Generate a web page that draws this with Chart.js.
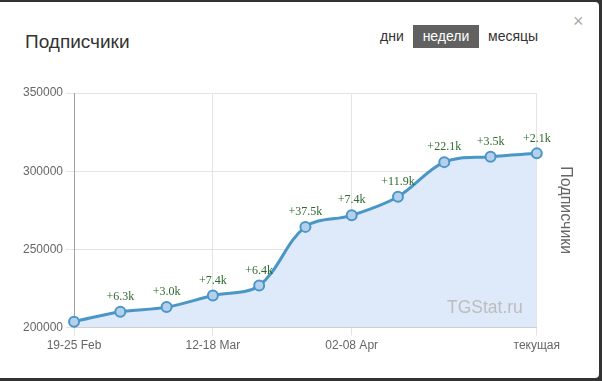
<!DOCTYPE html>
<html>
<head>
<meta charset="utf-8">
<script src="https://cdn.jsdelivr.net/npm/chart.js@4/dist/chart.umd.min.js"></script>
<style>
  html, body { margin: 0; padding: 0; }
  body { width: 602px; height: 381px; overflow: hidden; background: #333; font-family: "Liberation Sans", Arial, sans-serif; }
  .modal { position: absolute; left: -10px; top: 2px; width: 609px; height: 376px; background: #fff; border-radius: 4px; }
  .title { position: absolute; left: 25px; top: 32px; font-size: 19px; line-height: 20px; color: #333; }
  .close { position: absolute; left: 573px; top: 11px; font-size: 18px; line-height: 20px; color: #aaa; }
  .tab { position: absolute; top: 25px; height: 23px; font-size: 14px; line-height: 23px; color: #333; }
  .tab.on { background: #616161; color: #fff; width: 66px; text-align: center; }
  .chart-box { position: absolute; left: 0; top: 63px; width: 602px; height: 310px; }
  .mark { position: absolute; left: 447px; top: 297px; font-size: 17.5px; color: #bdbdbd; }
</style>
</head>
<body>
<div class="modal"></div>
<div class="title">Подписчики</div>
<div class="close">×</div>
<div class="tab" style="left:380px">дни</div>
<div class="tab on" style="left:413px">недели</div>
<div class="tab" style="left:488px">месяцы</div>
<div class="chart-box"><canvas id="subsChart" width="602" height="310"></canvas></div>
<div class="mark">TGStat.ru</div>

<script>
const weeks = ['19-25 Feb', '26 Feb-04 Mar', '05-11 Mar', '12-18 Mar', '19-25 Mar', '26 Mar-01 Apr',
               '02-08 Apr', '09-15 Apr', '16-22 Apr', '23-29 Apr', 'текущая'];
const subscribers = [203800, 210100, 213100, 220500, 226900, 264400, 271800, 283700, 305800, 309300, 311400];
const gains = ['', '+6.3k', '+3.0k', '+7.4k', '+6.4k', '+37.5k', '+7.4k', '+11.9k', '+22.1k', '+3.5k', '+2.1k'];
const shownWeeks = [0, 3, 6, 10];
const yTicks = [200000, 250000, 300000, 350000];

Chart.defaults.font.family = '"Liberation Sans", Arial, sans-serif';
Chart.defaults.font.size = 12;
Chart.defaults.color = '#666';

const shownTick = i => shownWeeks.includes(i);

// green "+N.Nk" labels above the points
const gainLabels = {
    id: 'gainLabels',
    afterDatasetsDraw(chart) {
        const ctx = chart.ctx;
        const meta = chart.getDatasetMeta(0);
        ctx.save();
        ctx.font = '12px "Liberation Serif", "Times New Roman", serif';
        ctx.fillStyle = '#2f6a2f';
        ctx.textAlign = 'center';
        ctx.textBaseline = 'middle';
        meta.data.forEach((pt, i) => {
            if (gains[i]) ctx.fillText(gains[i], pt.x, pt.y - 15);
        });
        ctx.restore();
    }
};

new Chart(document.getElementById('subsChart'), {
    type: 'line',
    data: {
        labels: weeks,
        datasets: [{
            label: 'Подписчики',
            data: subscribers,
            borderColor: '#4a96c6',
            borderWidth: 3,
            backgroundColor: '#dee9fa',
            fill: 'start',
            tension: 0.35,
            pointRadius: 5,
            pointBorderWidth: 2,
            pointBackgroundColor: '#b5d0ec',
            pointBorderColor: '#4a96c6',
            clip: false
        }]
    },
    options: {
        responsive: false,
        animation: false,
        layout: { padding: { left: 20, top: 30, right: 27, bottom: 17 } },
        plugins: { legend: { display: false }, tooltip: { enabled: false } },
        scales: {
            x: {
                grid: {
                    color: c => shownTick(c.index) ? '#e3e3e3' : 'rgba(0,0,0,0)',
                    tickColor: c => shownTick(c.index) ? '#e3e3e3' : 'rgba(0,0,0,0)',
                    tickLength: 8
                },
                border: { color: '#cccccc' },
                ticks: {
                    autoSkip: false,
                    maxRotation: 0,
                    padding: 3,
                    callback: (v, i) => shownTick(i) ? weeks[i] : ''
                }
            },
            y: {
                min: 200000,
                max: 350000,
                afterBuildTicks: s => { s.ticks = yTicks.map(v => ({ value: v })); },
                grid: { color: '#e3e3e3', tickLength: 8 },
                border: { color: '#a0a0a0' },
                ticks: { padding: 3, callback: v => String(v) }
            },
            y2: {
                position: 'right',
                min: 200000,
                max: 350000,
                grid: { display: false, drawTicks: false, tickLength: 0 },
                border: { display: false },
                ticks: { display: false },
                title: {
                    display: true,
                    text: 'Подписчики',
                    color: '#666',
                    font: { size: 16 },
                    padding: { top: 0, bottom: 19 }
                }
            }
        }
    },
    plugins: [gainLabels]
});
</script>
</body>
</html>
